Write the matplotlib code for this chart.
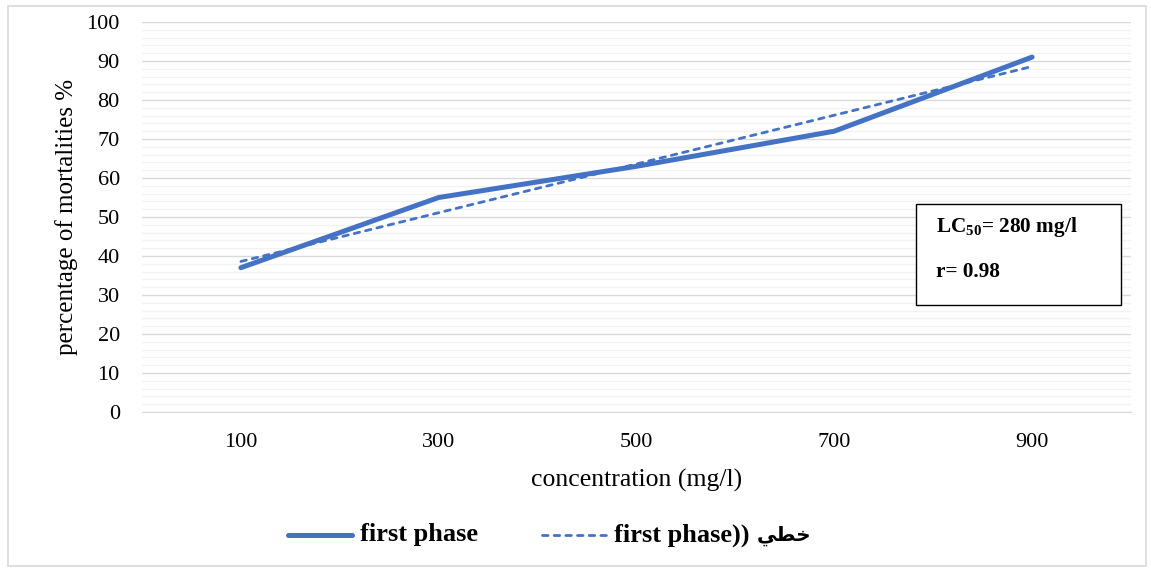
import matplotlib
matplotlib.use("Agg")
import matplotlib.pyplot as plt
from matplotlib.lines import Line2D
from matplotlib.patches import Rectangle
from matplotlib.ticker import MultipleLocator

# ---- data ----
categories = ["100", "300", "500", "700", "900"]
mortality = [37, 55, 63, 72, 91]
trend = [38.6, 51.1, 63.6, 76.1, 88.6]
y_ticks = [0, 10, 20, 30, 40, 50, 60, 70, 80, 90, 100]
series_label = "first phase"
trend_label = "first phase))"
# Arabic "خطي" in visual (left-to-right) order using presentation forms
arabic_word = "\uFEF2\uFEC4\uFEA7"
box_line1 = "LC$_{50}$= 280 mg/l"
box_line2 = "r= 0.98"

plt.rcParams["font.family"] = ["Liberation Serif", "DejaVu Sans"]
plt.rcParams["mathtext.fontset"] = "custom"
plt.rcParams["mathtext.rm"] = "Liberation Serif:bold"
plt.rcParams["mathtext.bf"] = "Liberation Serif:bold"

W, H = 1151, 571
fig = plt.figure(figsize=(W / 100, H / 100), dpi=100)


def fx(px):
    return px / W


def fy(py):
    return 1 - py / H


# outer chart border
fig.patches.append(Rectangle((fx(8), fy(566)), (1146 - 8) / W, (566 - 6) / H,
                             transform=fig.transFigure, fill=False,
                             edgecolor="#D9D9D9", linewidth=1.2))

ax = fig.add_axes([fx(142), fy(412), (1131 - 142) / W, (412 - 22) / H])
x = list(range(len(categories)))
blue = "#4472C4"
dash = (0, (2.0, 2.2))
ax.plot(x, mortality, color=blue, linewidth=3.6, solid_capstyle="round", zorder=3)
ax.plot(x, trend, color=blue, linewidth=2.0, linestyle=dash, dash_capstyle="round", zorder=4)

ax.set_xlim(-0.5, len(categories) - 0.5)
ax.set_ylim(0, 100)
ax.set_xticks(x)
ax.set_xticklabels(categories)
ax.set_yticks(y_ticks)
ax.yaxis.set_minor_locator(MultipleLocator(2))
ax.grid(which="major", axis="y", color="#D9D9D9", linewidth=1.0)
ax.grid(which="minor", axis="y", color="#F2F2F2", linewidth=1.0)
ax.set_axisbelow(True)
for s in ["top", "right", "left"]:
    ax.spines[s].set_visible(False)
ax.spines["bottom"].set_color("#D9D9D9")
ax.tick_params(axis="both", which="both", length=0, labelsize=16, colors="#000000")
ax.tick_params(axis="x", pad=15)
ax.tick_params(axis="y", pad=16)

ax.set_xlabel("concentration (mg/l)", fontsize=18.5, labelpad=12)
ax.set_ylabel("percentage of mortalities %", fontsize=18, labelpad=6)

# annotation box
fig.patches.append(Rectangle((fx(916), fy(305)), (1121 - 916) / W, (305 - 204) / H,
                             transform=fig.transFigure, fill=True, facecolor="white",
                             edgecolor="black", linewidth=1.0, zorder=5))
fig.text(fx(936), fy(227), box_line1, fontsize=15.3, fontweight="bold",
         va="center", ha="left", zorder=6)
fig.text(fx(936), fy(272), box_line2, fontsize=15.3, fontweight="bold",
         va="center", ha="left", zorder=6)

# legend (drawn manually for exact placement)
ly = fy(535)
fig.lines.append(Line2D([fx(288), fx(352)], [ly, ly], transform=fig.transFigure,
                        color=blue, linewidth=3.6, solid_capstyle="round"))
fig.text(fx(360), ly, series_label, fontsize=19, fontweight="bold", va="center", ha="left")
fig.lines.append(Line2D([fx(542), fx(609)], [ly, ly], transform=fig.transFigure,
                        color=blue, linewidth=2.0, linestyle=dash, dash_capstyle="round"))
fig.text(fx(614), ly, trend_label, fontsize=19, fontweight="bold", va="center", ha="left")
fig.text(fx(811), fy(536), arabic_word, fontsize=14.5, fontweight="bold", va="center", ha="right",
         family="DejaVu Sans")

fig.savefig("out.png", dpi=100)
